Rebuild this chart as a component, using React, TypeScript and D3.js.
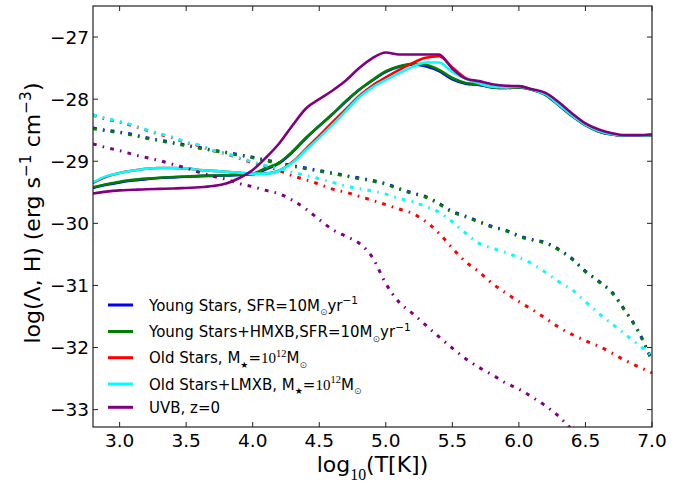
import React from "react";
import * as d3 from "d3";

const T = [2.8,2.9,3.0,3.1,3.2,3.3,3.4,3.5,3.6,3.7,3.8,3.9,4.0,4.1,4.2,4.3,4.4,4.5,4.6,4.7,4.8,4.9,5.0,5.1,5.2,5.3,5.4,5.5,5.6,5.7,5.8,5.9,6.0,6.1,6.2,6.3,6.4,6.5,6.6,6.7,6.8,6.9,7.0];

// solid curves
const blueSolid = [-29.43,-29.38,-29.34,-29.31,-29.29,-29.27,-29.26,-29.25,-29.24,-29.235,-29.23,-29.22,-29.21,
  -29.13,-29.03,-28.85,-28.63,-28.43,-28.24,-28.04,-27.85,-27.70,-27.56,
  -27.48,-27.44,-27.47,-27.55,-27.68,-27.75,-27.77,-27.81,-27.82,-27.81,
  -27.85,-27.93,-28.10,-28.27,-28.42,-28.52,-28.57,-28.59,-28.59,-28.58];
const greenSolid = [-29.42,-29.37,-29.33,-29.30,-29.28,-29.265,-29.255,-29.245,-29.235,-29.23,-29.225,-29.215,-29.20,
  -29.11,-29.02,-28.84,-28.62,-28.43,-28.24,-28.03,-27.85,-27.69,-27.55,
  -27.47,-27.43,-27.445,-27.53,-27.66,-27.74,-27.765,-27.81,-27.82,-27.81,
  -27.85,-27.93,-28.10,-28.27,-28.42,-28.52,-28.57,-28.59,-28.59,-28.58];
const redSolid = [-29.35,-29.25,-29.19,-29.15,-29.12,-29.11,-29.11,-29.115,-29.14,-29.155,-29.17,-29.185,-29.20,
  -29.20,-29.15,-29.01,-28.80,-28.59,-28.37,-28.16,-27.95,-27.78,-27.65,
  -27.53,-27.42,-27.335,-27.31,-27.49,-27.66,-27.745,-27.80,-27.81,-27.80,
  -27.845,-27.92,-28.09,-28.26,-28.41,-28.51,-28.565,-28.585,-28.585,-28.575];
const cyanSolid = [-29.34,-29.24,-29.19,-29.15,-29.12,-29.11,-29.11,-29.115,-29.14,-29.155,-29.17,-29.185,-29.20,
  -29.20,-29.15,-29.02,-28.82,-28.62,-28.41,-28.19,-27.97,-27.81,-27.69,
  -27.58,-27.48,-27.41,-27.41,-27.56,-27.67,-27.745,-27.80,-27.81,-27.80,
  -27.845,-27.92,-28.09,-28.26,-28.41,-28.51,-28.565,-28.585,-28.585,-28.575];
const purpleSolid = [-29.52,-29.49,-29.47,-29.46,-29.45,-29.445,-29.44,-29.43,-29.42,-29.40,-29.36,-29.27,-29.14,
  -28.94,-28.71,-28.42,-28.15,-28.00,-27.86,-27.70,-27.50,-27.34,-27.25,
  -27.28,-27.28,-27.28,-27.28,-27.51,-27.67,-27.71,-27.76,-27.785,-27.79,
  -27.84,-27.90,-28.05,-28.23,-28.39,-28.49,-28.55,-28.58,-28.58,-28.57];

// dash-dot curves
const blueDD = [-28.465,-28.50,-28.53,-28.57,-28.62,-28.66,-28.70,-28.74,-28.78,-28.82,-28.855,-28.895,-28.935,
  -28.98,-29.03,-29.07,-29.11,-29.15,-29.19,-29.23,-29.27,-29.31,-29.36,
  -29.44,-29.51,-29.57,-29.68,-29.81,-29.885,-29.97,-30.05,-30.11,-30.20,
  -30.26,-30.31,-30.42,-30.57,-30.77,-30.93,-31.11,-31.41,-31.745,-32.21];
const greenDD = [-28.475,-28.51,-28.54,-28.58,-28.63,-28.67,-28.71,-28.75,-28.79,-28.83,-28.865,-28.905,-28.945,
  -28.99,-29.04,-29.08,-29.12,-29.16,-29.20,-29.24,-29.28,-29.32,-29.37,
  -29.45,-29.52,-29.58,-29.69,-29.82,-29.895,-29.98,-30.06,-30.12,-30.21,
  -30.27,-30.32,-30.43,-30.58,-30.78,-30.94,-31.12,-31.42,-31.755,-32.22];
const redDD = [-28.26,-28.32,-28.37,-28.43,-28.50,-28.565,-28.625,-28.70,-28.75,-28.83,-28.88,-28.955,-29.025,
  -29.08,-29.15,-29.235,-29.30,-29.37,-29.45,-29.50,-29.565,-29.63,-29.70,
  -29.77,-29.84,-29.97,-30.16,-30.40,-30.62,-30.78,-30.97,-31.12,-31.26,
  -31.39,-31.53,-31.675,-31.79,-31.89,-31.98,-32.09,-32.21,-32.31,-32.41];
const cyanDD = [-28.25,-28.31,-28.36,-28.42,-28.49,-28.555,-28.615,-28.69,-28.74,-28.82,-28.87,-28.945,-29.01,
  -29.07,-29.12,-29.18,-29.23,-29.28,-29.34,-29.40,-29.44,-29.48,-29.53,
  -29.60,-29.65,-29.73,-29.82,-29.975,-30.16,-30.32,-30.40,-30.47,-30.55,
  -30.65,-30.79,-30.94,-31.07,-31.26,-31.45,-31.62,-31.79,-31.96,-32.13];
const purpleDD: (number | null)[] = [-28.72,-28.78,-28.83,-28.89,-28.94,-28.99,-29.05,-29.11,-29.18,-29.24,-29.29,-29.36,-29.41,
  -29.47,-29.525,-29.63,-29.77,-29.94,-30.10,-30.21,-30.32,-30.55,-30.97,
  -31.27,-31.45,-31.64,-31.83,-32.01,-32.18,-32.32,-32.44,-32.57,-32.67,
  -32.80,-32.94,-33.11,-33.33,null,null,null,null,null,null];

const xTicks = [3.0, 3.5, 4.0, 4.5, 5.0, 5.5, 6.0, 6.5, 7.0];
const yTicks = [-27, -28, -29, -30, -31, -32, -33];

type Seg = { t: string; sub?: boolean; sup?: boolean; serif?: boolean };
const legendLabels: Seg[][] = [
  [{ t: "Young Stars, SFR=10M" }, { t: "⊙", sub: true }, { t: "yr" }, { t: "−1", sup: true }],
  [{ t: "Young Stars+HMXB,SFR=10M" }, { t: "⊙", sub: true }, { t: "yr" }, { t: "−1", sup: true }],
  [{ t: "Old Stars, M" }, { t: "★", sub: true }, { t: "=" }, { t: "10", serif: true }, { t: "12", sup: true, serif: true }, { t: "M" }, { t: "⊙", sub: true }],
  [{ t: "Old Stars+LMXB, M" }, { t: "★", sub: true }, { t: "=" }, { t: "10", serif: true }, { t: "12", sup: true, serif: true }, { t: "M" }, { t: "⊙", sub: true }],
  [{ t: "UVB, z=0" }],
];
const legendColors = ["#0000ff", "#008000", "#ff0000", "#00ffff", "#800080"];
const legendRowsY = [305, 331.5, 357.7, 384, 407.3];

const W = 686, H = 483;
const L = 93, R = 652, TOP = 6, BOT = 427;

function rich(segs: Seg[], fs: number, subScale = 0.6, subShift = 0.3) {
  let cur = 0;
  return segs.map((s, i) => {
    let target = 0;
    let size = fs;
    if (s.sub) { target = fs * subShift; size = fs * subScale; }
    if (s.sup) { target = -fs * 0.42; size = fs * 0.7; }
    const dy = target - cur;
    cur = target;
    return (
      <tspan key={i} dy={dy} fontSize={size}
        fontFamily={s.serif ? "'Liberation Serif', 'DejaVu Serif', serif" : undefined}
        fill={s.t === "⊙" ? "#444" : undefined}>
        {s.t}
      </tspan>
    );
  });
}

export default function App() {
  const x = d3.scaleLinear().domain([2.8, 7.0]).range([L, R]);
  const y = d3.scaleLinear().domain([-26.5, -33.28]).range([TOP, BOT]);
  const line = d3.line<[number, number | null]>()
    .defined((d) => d[1] != null)
    .x((d) => x(d[0]))
    .y((d) => y(d[1] as number))
    .curve(d3.curveMonotoneX);
  const mk = (vals: (number | null)[]) => line(T.map((t, i) => [t, vals[i]] as [number, number | null])) || "";
  const fmtY = d3.format("d");
  const fmtX = d3.format(".1f");
  const dash = "3.8,6.2,1.6,6.2";

  const series: { v: (number | null)[]; c: string; dd: boolean }[] = [
    { v: blueSolid, c: "#0000ff", dd: false },
    { v: blueDD, c: "#0000ff", dd: true },
    { v: greenSolid, c: "#008000", dd: false },
    { v: greenDD, c: "#008000", dd: true },
    { v: redSolid, c: "#ff0000", dd: false },
    { v: redDD, c: "#ff0000", dd: true },
    { v: cyanSolid, c: "#00ffff", dd: false },
    { v: cyanDD, c: "#00ffff", dd: true },
    { v: purpleSolid, c: "#800080", dd: false },
    { v: purpleDD, c: "#800080", dd: true },
  ];

  return (
    <svg width={W} height={H} style={{ position: "absolute", left: 0, top: 0, background: "#fff" }}
      fontFamily="'DejaVu Sans', sans-serif">
      <defs>
        <clipPath id="plot">
          <rect x={L} y={TOP} width={R - L} height={BOT - TOP} />
        </clipPath>
      </defs>
      <rect x={0} y={0} width={W} height={H} fill="#fff" />
      <g clipPath="url(#plot)">
        {series.map((s, i) => (
          <path key={i} d={mk(s.v)} fill="none" stroke={s.c}
            strokeWidth={s.dd ? 3 : 2.6}
            strokeDasharray={s.dd ? dash : undefined}
            strokeLinejoin="round" />
        ))}
      </g>
      {/* frame */}
      <rect x={L} y={TOP} width={R - L} height={BOT - TOP} fill="none" stroke="#222" strokeWidth={1.2} />
      {/* ticks */}
      {xTicks.map((t) => (
        <g key={"x" + t}>
          <line x1={x(t)} x2={x(t)} y1={BOT} y2={BOT - 5} stroke="#222" strokeWidth={1} />
          <line x1={x(t)} x2={x(t)} y1={TOP} y2={TOP + 5} stroke="#222" strokeWidth={1} />
          <text x={x(t)} y={447} textAnchor="middle" fontSize={18.5} fill="#000">{fmtX(t)}</text>
        </g>
      ))}
      {yTicks.map((t) => (
        <g key={"y" + t}>
          <line x1={L} x2={L + 5} y1={y(t)} y2={y(t)} stroke="#222" strokeWidth={1} />
          <line x1={R} x2={R - 5} y1={y(t)} y2={y(t)} stroke="#222" strokeWidth={1} />
          <text x={89} y={y(t) + 6.7} textAnchor="end" fontSize={18.5} fill="#000">{fmtY(t)}</text>
        </g>
      ))}
      {/* axis labels */}
      <text x={(L + R) / 2} y={472} textAnchor="middle" fontSize={22} fill="#000">
        {rich([{ t: "log" }, { t: "10", sub: true, serif: true }, { t: "(T[K])" }], 22, 0.72, 0.36)}
      </text>
      <text transform={`translate(40, 213) rotate(-90)`} textAnchor="middle" fontSize={22} fill="#000">
        {rich([{ t: "log(Λ, H) (erg s" }, { t: "−1", sup: true }, { t: " cm" }, { t: "−3", sup: true }, { t: ")" }], 22)}
      </text>
      {/* legend */}
      {legendLabels.map((lab, i) => (
        <g key={"lg" + i}>
          <line x1={108} x2={133} y1={legendRowsY[i]} y2={legendRowsY[i]} stroke={legendColors[i]} strokeWidth={3} />
          <text x={149} y={legendRowsY[i] + 5.5} fontSize={15} fill="#000">{rich(lab, 15)}</text>
        </g>
      ))}
    </svg>
  );
}
